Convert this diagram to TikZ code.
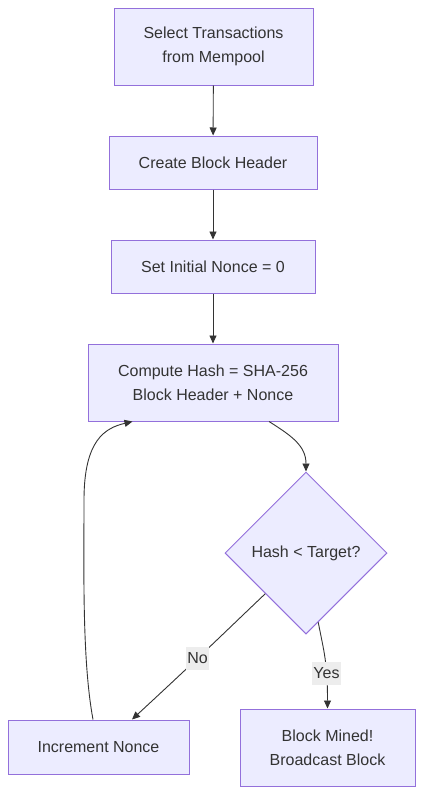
\documentclass[tikz,border=0pt]{standalone}
\usepackage{fontspec}
\setmainfont{Liberation Sans}
\usetikzlibrary{shapes.geometric,arrows.meta,calc}
\definecolor{nodefill}{HTML}{ECECFF}
\definecolor{nodeline}{HTML}{9370DB}
\definecolor{txt}{HTML}{333333}
\definecolor{lblbg}{HTML}{EDEDED}
\tikzset{
  box/.style={draw=nodeline, fill=nodefill, line width=1pt, text=txt, align=center,
    font=\fontsize{16}{24}\selectfont, inner sep=0pt},
  dia/.style={diamond, aspect=1, draw=nodeline, fill=nodefill, line width=1pt, text=txt,
    font=\fontsize{16}{24}\selectfont, inner sep=0pt, minimum width=162pt, minimum height=162pt},
  conn/.style={draw=txt, line width=0.9pt, -{Triangle[length=8pt,width=7pt]}},
  lbl/.style={fill=lblbg, text=txt, font=\fontsize{16}{20}\selectfont, inner xsep=1pt,
    minimum height=23pt}
}
\begin{document}
\begin{tikzpicture}[x=1pt,y=-1pt]
\useasboundingbox (0,0) rectangle (423,795);
\node[box, minimum width=199pt, minimum height=77pt] (A) at (213.5,46.5) {Select Transactions\\from Mempool};
\node[box, minimum width=208pt, minimum height=53pt] (B) at (213,162.5) {Create Block Header};
\node[box, minimum width=204pt, minimum height=53pt] (C) at (213,266.5) {Set Initial Nonce = 0};
\node[box, minimum width=250pt, minimum height=77pt] (D) at (213,382.5) {Compute Hash = SHA-256\\Block Header + Nonce};
\node[dia] (E) at (306,553) {Hash < Target?};
\node[box, minimum width=181pt, minimum height=54pt] (F) at (98.5,747) {Increment Nonce};
\node[box, minimum width=175pt, minimum height=77pt] (G) at (327.5,747.5) {Block Mined!\\Broadcast Block};

\draw[conn] (A) -- (B);
\draw[conn] (B) -- (C);
\draw[conn] (C) -- (D);
\draw[conn] ($(D.south)+(56,0)$) .. controls (292,436) and (306,446) .. (E.north);
\draw[conn] (E.south west) .. controls (225,632) and (205,652) .. node[lbl, pos=0.61] (no) {No} ($(F.north)+(33.5,0)$);
\draw[conn] ($(E.south)!0.15!(E.east)$) .. controls (324,652) and (327.5,662) .. node[lbl, pos=0.68] (yes) {Yes} (G.north);
\draw[conn] ($(F.north)+(-5.5,0)$) .. controls (82,660) and (84,570) .. (84,500) .. controls (84,440) and (105,428) .. ($(D.south west)+(45,0)$);
\end{tikzpicture}
\end{document}
